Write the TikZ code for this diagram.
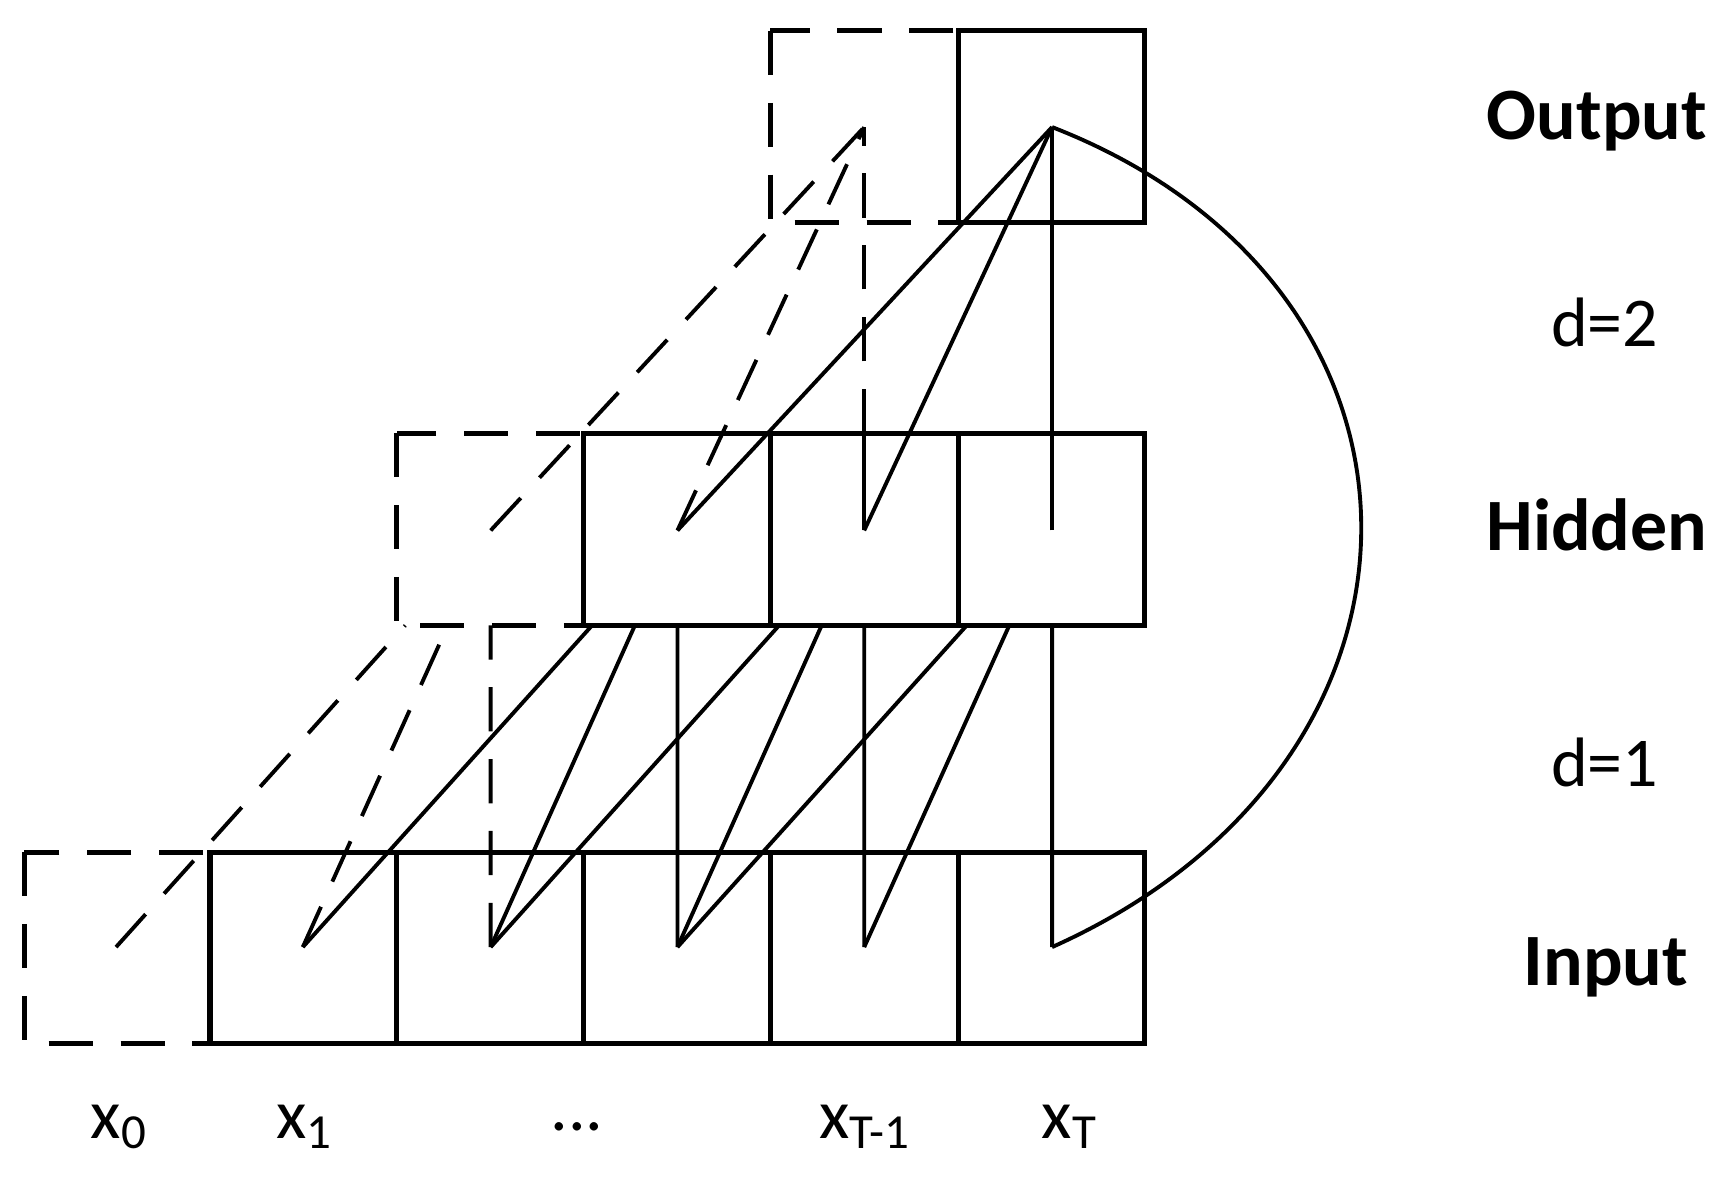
\documentclass[tikz,border=0pt]{standalone}
\usepackage{fontspec}
\setmainfont{Carlito}
\usetikzlibrary{calc}
\begin{document}
\begin{tikzpicture}[x=0.01cm,y=-0.01cm,
  box/.style={draw,line width=1.3pt},
  dbox/.style={draw,line width=1.3pt,dash pattern=on 0.4cm off 0.25cm},
  ln/.style={line width=1pt},
  dln/.style={line width=1pt,dash pattern=on 0.4cm off 0.25cm},
  lab/.style={font=\fontsize{18}{20}\selectfont},
  blab/.style={font=\bfseries\fontsize{19}{22}\selectfont}]
\useasboundingbox (0,0) rectangle (1560,1088);
% points
\foreach \n/\x in {0/105,1/274,2/444,3/613,4/782,5/952}{\coordinate (i\n) at (\x,857);}
\foreach \n/\x in {2/444,3/613,4/782,5/952}{\coordinate (h\n) at (\x,480);}
\foreach \n/\x in {4/782,5/952}{\coordinate (o\n) at (\x,115);}
% boxes
\draw[dbox] (22,771) rectangle (190,944);
\foreach \a/\b in {190/359,359/528,528/697,697/867,867/1036}{\draw[box] (\a,771) rectangle (\b,944);}
\draw[dbox] (359,392) rectangle (528,566);
\foreach \a/\b in {528/697,697/867,867/1036}{\draw[box] (\a,392) rectangle (\b,566);}
\draw[dbox] (697,28) rectangle (867,201);
\draw[box] (867,28) rectangle (1036,201);
% input -> hidden (truncated at hidden bottom)
\draw[dln] (i0) -- ($(i0)!0.772!(h2)$);
\draw[dln] (i1) -- ($(i1)!0.772!(h2)$);
\draw[dln] (i2) -- ($(i2)!0.772!(h2)$);
\foreach \h/\a/\b in {3/1/2,4/2/3,5/3/4}{
  \draw[ln] (i\a) -- ($(i\a)!0.772!(h\h)$);
  \draw[ln] (i\b) -- ($(i\b)!0.772!(h\h)$);
  \draw[ln] (i\h) -- ($(i\h)!0.772!(h\h)$);
}
% hidden -> output
\draw[dln] (h2) -- (o4);
\draw[dln] (h3) -- (o4);
\draw[ln] (h4) -- (782,392);
\draw[dln] (782,392) -- (o4);
\draw[ln] (h3) -- (o5);
\draw[ln] (h4) -- (o5);
\draw[ln] (h5) -- (o5);
% skip curve
\draw[ln] (i5) .. controls (1325,690) and (1325,260) .. (o5);
% labels
\node[blab] (tout) at (1445,110) {Output};
\node[lab] (td2) at (1452,292) {d=2};
\node[blab] (thid) at (1445,475) {Hidden};
\node[lab] (td1) at (1452,690) {d=1};
\node[blab] (tin) at (1453,875) {Input};
\node[lab] (l0) at (108,1020) {x\textsubscript{0}};
\node[lab] (l1) at (276,1020) {x\textsubscript{1}};
\node[lab] (ld) at (522,1020) {...};
\node[lab] (l4) at (783,1020) {x\textsubscript{T-1}};
\node[lab] (l5) at (968,1020) {x\textsubscript{T}};
\end{tikzpicture}
\end{document}
